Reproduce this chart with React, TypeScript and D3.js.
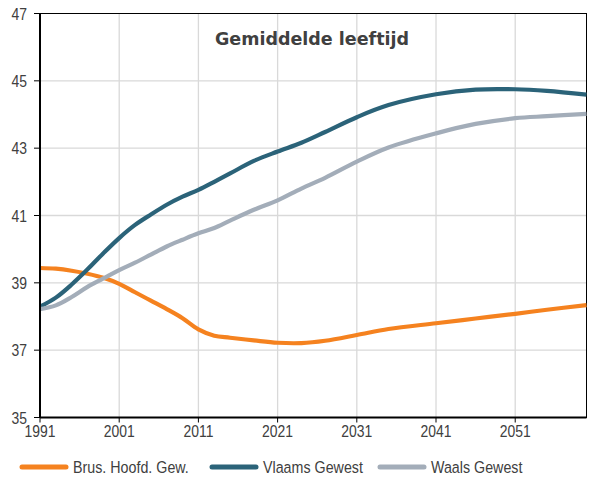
import React from 'react';
import * as d3 from 'd3';

const years = [1991, 1993, 1995, 1997, 1999, 2001, 2003, 2005, 2007, 2009, 2011, 2013, 2015, 2018, 2021, 2024, 2027, 2031, 2035, 2041, 2046, 2051, 2055, 2060];
const brussel = [39.44, 39.42, 39.36, 39.27, 39.15, 38.97, 38.72, 38.47, 38.22, 37.95, 37.62, 37.43, 37.37, 37.29, 37.22, 37.21, 37.28, 37.45, 37.63, 37.8, 37.94, 38.08, 38.2, 38.34];
const vlaams = [38.29, 38.56, 38.95, 39.4, 39.88, 40.33, 40.72, 41.03, 41.32, 41.56, 41.76, 42.0, 42.25, 42.62, 42.9, 43.16, 43.48, 43.92, 44.28, 44.6, 44.74, 44.75, 44.7, 44.59];
const waals = [38.22, 38.33, 38.58, 38.88, 39.13, 39.38, 39.6, 39.84, 40.08, 40.28, 40.47, 40.63, 40.85, 41.17, 41.45, 41.8, 42.12, 42.6, 43.02, 43.44, 43.72, 43.89, 43.95, 44.02];
const xTicks = [1991, 2001, 2011, 2021, 2031, 2041, 2051];
const yTicks = [35, 37, 39, 41, 43, 45, 47];

const seriesList = [
  { name: 'Brus. Hoofd. Gew.', values: brussel, color: '#f5821f' },
  { name: 'Vlaams Gewest', values: vlaams, color: '#2b6379' },
  { name: 'Waals Gewest', values: waals, color: '#a3adb9' },
];

const W = 611;
const H = 481;
const m = { left: 40, top: 13.5, right: 586.5, bottom: 417.5 };
const textColor = '#404040';
const font = '"Liberation Sans", Arial, sans-serif';

// condensed text: the original uses a narrow face, so squeeze horizontally
function Narrow({ x, y, anchor = 'start', size = 17, sx = 0.82, children }: any) {
  return (
    <g transform={`translate(${x},${y}) scale(${sx},1)`}>
      <text x={0} y={0} textAnchor={anchor} fontFamily={font} fontSize={size} fill={textColor}>{children}</text>
    </g>
  );
}

export default function App() {
  const x = d3.scaleLinear().domain([1991, 2060]).range([m.left, m.right]);
  const y = d3.scaleLinear().domain([35, 47]).range([m.bottom, m.top]);
  const line = d3.line<number>()
    .x((_, i) => x(years[i]))
    .y(d => y(d))
    .curve(d3.curveCatmullRom.alpha(0.5));

  const legendX = [20, 210, 378];

  return (
    <svg width={W} height={H} style={{ position: 'absolute', left: 0, top: 0, background: '#fff' }}>
      {xTicks.slice(1).map(t => (
        <line key={'gx' + t} x1={x(t)} x2={x(t)} y1={m.top} y2={m.bottom} stroke="#d9d9d9" strokeWidth={1.3} />
      ))}
      {yTicks.slice(1, -1).map(t => (
        <line key={'gy' + t} x1={m.left} x2={m.right} y1={y(t)} y2={y(t)} stroke="#d9d9d9" strokeWidth={1.3} />
      ))}
      <rect x={m.left} y={m.top} width={m.right - m.left} height={m.bottom - m.top} fill="none" stroke="#000" strokeWidth={1} />

      <text x={312} y={45} textAnchor="middle" fontFamily='"DejaVu Sans", sans-serif' fontSize={17.5} fontWeight={600} fill={textColor}>
        Gemiddelde leeftijd
      </text>

      {seriesList.map(s => (
        <path key={s.name} d={line(s.values) || ''} fill="none" stroke={s.color} strokeWidth={4.2} strokeLinejoin="round" />
      ))}

      <line x1={m.left} x2={m.left} y1={m.top} y2={m.bottom} stroke="#000" strokeWidth={2} />
      <line x1={m.left} x2={m.right} y1={m.bottom} y2={m.bottom} stroke="#000" strokeWidth={2} />
      {yTicks.map(t => (
        <g key={'yt' + t}>
          <line x1={m.left - 6} x2={m.left} y1={y(t)} y2={y(t)} stroke="#000" strokeWidth={1} />
          <Narrow x={27} y={y(t) + 6} anchor="end">{t}</Narrow>
        </g>
      ))}
      {xTicks.map(t => (
        <g key={'xt' + t}>
          <line x1={x(t)} x2={x(t)} y1={m.bottom} y2={m.bottom + 5} stroke="#000" strokeWidth={1} />
          <Narrow x={x(t)} y={437} anchor="middle">{t}</Narrow>
        </g>
      ))}

      {seriesList.map((s, i) => (
        <g key={'lg' + s.name}>
          <line x1={legendX[i] + 2} x2={legendX[i] + 46} y1={467} y2={467} stroke={s.color} strokeWidth={5} strokeLinecap="round" />
          <Narrow x={legendX[i] + 53} y={473} sx={0.84}>{s.name}</Narrow>
        </g>
      ))}
    </svg>
  );
}
